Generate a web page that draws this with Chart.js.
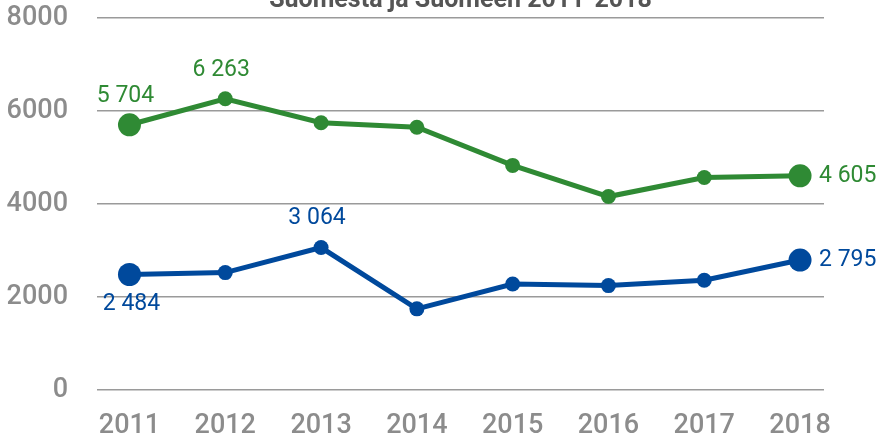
<!DOCTYPE html>
<html>
<head>
<meta charset="utf-8">
<script src="https://cdn.jsdelivr.net/npm/chart.js@4"></script>
<style>
  html, body { margin: 0; padding: 0; background: #fff; overflow: hidden; }
  #wrap { position: absolute; left: 0; top: -30px; width: 876px; height: 466px; }
</style>
</head>
<body>
<div id="wrap"><canvas id="c"></canvas></div>
<script>
const titleText = 'Suomesta ja Suomeen 2011-2018';
const years = ['2011', '2012', '2013', '2014', '2015', '2016', '2017', '2018'];
const greenValues = [5704, 6263, 5747, 5652, 4830, 4160, 4570, 4605];
const blueValues = [2484, 2525, 3064, 1745, 2280, 2245, 2360, 2795];
const yTicks = [0, 2000, 4000, 6000, 8000];

const GREEN = '#2f8a34';
const BLUE = '#00499c';
const GRAY = '#8c8c8c';

// which points carry a value label and where
const greenLabelPos = ['top', 'top', null, null, null, null, null, 'right'];
const blueLabelPos = ['bottom', null, 'top', null, null, null, null, 'right'];

function fmt(v) {
  return String(v).replace(/\B(?=(\d{3})+(?!\d))/g, ' ');
}

function pts(vals) {
  return vals.map((v, i) => ({ x: Number(years[i]), y: v }));
}
function radii(n) {
  return Array.from({ length: n }, (_, i) => (i === 0 || i === n - 1) ? 11.5 : 7.5);
}

const centeredTitle = {
  id: 'centeredTitle',
  afterDraw(chart) {
    const ctx = chart.ctx;
    const a = chart.chartArea;
    ctx.save();
    ctx.font = '700 25px Roboto';
    ctx.fillStyle = '#555555';
    ctx.textAlign = 'center';
    ctx.textBaseline = 'alphabetic';
    ctx.fillText(titleText, (a.left + a.right) / 2, a.top - 11);
    ctx.restore();
  }
};

const valueLabels = {
  id: 'valueLabels',
  afterDatasetsDraw(chart) {
    const ctx = chart.ctx;
    ctx.save();
    ctx.font = '400 23px Roboto';
    chart.data.datasets.forEach((ds, di) => {
      const meta = chart.getDatasetMeta(di);
      const pos = ds.labelPos;
      meta.data.forEach((el, i) => {
        const p = pos[i];
        if (!p) return;
        const txt = fmt(ds.data[i].y);
        ctx.fillStyle = ds.borderColor;
        ctx.textBaseline = 'middle';
        if (p === 'top') {
          ctx.textAlign = 'center';
          ctx.fillText(txt, el.x - 4, el.y - 29);
        } else if (p === 'bottom') {
          ctx.textAlign = 'center';
          ctx.fillText(txt, el.x + 2, el.y + 30);
        } else if (p === 'right') {
          ctx.textAlign = 'left';
          ctx.fillText(txt, el.x + 19, el.y);
        }
      });
    });
    ctx.restore();
  }
};

new Chart(document.getElementById('c'), {
  type: 'line',
  data: {
    datasets: [
      {
        data: pts(greenValues),
        labelPos: greenLabelPos,
        borderColor: GREEN,
        backgroundColor: GREEN,
        pointBackgroundColor: GREEN,
        pointBorderWidth: 0,
        pointRadius: radii(greenValues.length),
        borderWidth: 5,
        tension: 0
      },
      {
        data: pts(blueValues),
        labelPos: blueLabelPos,
        borderColor: BLUE,
        backgroundColor: BLUE,
        pointBackgroundColor: BLUE,
        pointBorderWidth: 0,
        pointRadius: radii(blueValues.length),
        borderWidth: 5,
        tension: 0
      }
    ]
  },
  options: {
    responsive: true,
    maintainAspectRatio: false,
    animation: false,
    layout: { padding: { left: 0, right: 52, top: 48, bottom: 0 } },
    plugins: {
      legend: { display: false },
      tooltip: { enabled: false },
      title: { display: false }
    },
    scales: {
      x: {
        type: 'linear',
        min: 2010.661,
        max: 2018.25,
        grid: { display: false },
        border: { display: false },
        ticks: {
          stepSize: 1,
          includeBounds: false,
          color: GRAY,
          font: { family: 'Roboto', size: 27, weight: '500' },
          padding: 12,
          maxRotation: 0,
          callback: (v) => years.includes(String(v)) ? String(v) : ''
        },
        afterFit(scale) { scale.height = 46; }
      },
      y: {
        min: 0,
        max: 8000,
        afterBuildTicks(scale) { scale.ticks = yTicks.map(v => ({ value: v })); },
        grid: { color: '#9a9a9a', lineWidth: 1.5, drawTicks: false },
        border: { display: false },
        ticks: {
          color: GRAY,
          font: { family: 'Roboto', size: 27, weight: '500' },
          padding: 29,
          callback: (v) => String(v)
        },
        afterFit(scale) { scale.width = 97; }
      }
    }
  },
  plugins: [valueLabels, centeredTitle]
});
</script>
</body>
</html>
